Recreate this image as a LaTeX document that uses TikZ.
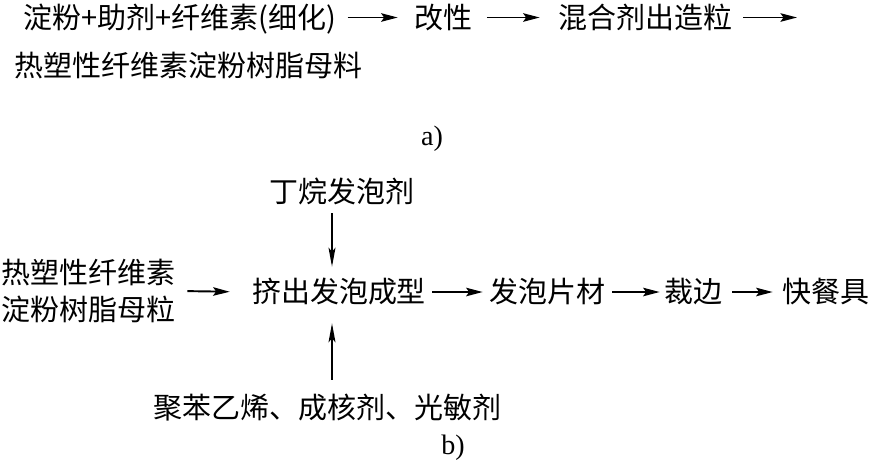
\documentclass[tikz,border=0pt]{standalone}
\usepackage{fontspec}
\setmainfont{Liberation Serif}
\newfontfamily\cjk{Noto Sans CJK SC}
\usetikzlibrary{arrows.meta}

\begin{document}
\begin{tikzpicture}[
	stepnode/.style={font=\cjk\fontsize{16.5pt}{21pt}\selectfont, inner sep=0.08cm, text height=14.5pt, text depth=2pt},
	twoline/.style={font=\cjk\fontsize{16.5pt}{21pt}\selectfont, inner sep=0.08cm, align=center},
	sublabel/.style={font=\fontsize{16pt}{19pt}\selectfont, inner sep=0pt},
	flow/.style={line width=1.1pt, -{Stealth[length=0.33cm, width=0.17cm, inset=0.06cm]}},
	feed/.style={line width=0.8pt, -{Stealth[length=0.38cm, width=0.14cm, inset=0.08cm]}},
	]
	\useasboundingbox (0,0) rectangle (17.42,-9.34);
	%Nodes a)
	\node[stepnode]      (a11) 	at 	(3.60,-0.35)      {淀粉+助剂+纤维素(细化)};
	\node[stepnode]      (a12) 	at 	(8.87,-0.35)      {改性};
	\node[stepnode]      (a13) 	at 	(12.90,-0.35)     {混合剂出造粒};
	\coordinate          (a1end) 	at 	(15.94,-0.35);
	\node[stepnode, anchor=west] (a21) at (0.20,-1.31) {热塑性纤维素淀粉树脂母料};
	\node[sublabel]      (alabel) 	at 	(8.64,-2.78)      {a)};
	
	%Nodes b)
	\node[twoline]       (b1) 	at 	(1.77,-5.82)      {热塑性纤维素\\淀粉树脂母粒};
	\node[stepnode]      (b2) 	at 	(6.78,-5.84)      {挤出发泡成型};
	\node[stepnode]      (b3) 	at 	(10.95,-5.84)     {发泡片材};
	\node[stepnode]      (b4) 	at 	(13.86,-5.84)     {裁边};
	\node[stepnode]      (b5) 	at 	(16.52,-5.84)     {快餐具};
	\node[stepnode]      (ding) 	at 	(6.83,-3.84)      {丁烷发泡剂};
	\node[stepnode]      (jubenyixi) at 	(6.55,-8.14)      {聚苯乙烯、成核剂、光敏剂};
	\node[sublabel]      (blabel) 	at 	(9.06,-8.96)      {b)};
	\coordinate          (feedcol) 	at 	([xshift=-0.14cm]b2.center);
	
	%Lines
	\draw[flow, shorten <=0.14cm, shorten >=0.25cm] (a11.east) -- (a12.west);
	\draw[flow, shorten <=0.2cm, shorten >=0.28cm] (a12.east) -- (a13.west);
	\draw[flow, shorten <=0.14cm] (a13.east) -- (a1end);
	\draw[flow, shorten <=0.15cm, shorten >=0.36cm] (b1.east) -- (b2.west);
	\draw[flow, shorten <=0.04cm, shorten >=0.05cm] (b2.east) -- (b3.west);
	\draw[flow, shorten <=0.05cm] (b3.east) -- (b4.west);
	\draw[flow, shorten <=0.12cm, shorten >=0.11cm] (b4.east) -- (b5.west);
	\draw[feed, shorten <=0.05cm, shorten >=0.13cm] (ding.south -| feedcol) -- (b2.north -| feedcol);
	\draw[feed, shorten <=0.17cm, shorten >=0.25cm] (jubenyixi.north -| feedcol) -- (b2.south -| feedcol);
\end{tikzpicture}
\end{document}
